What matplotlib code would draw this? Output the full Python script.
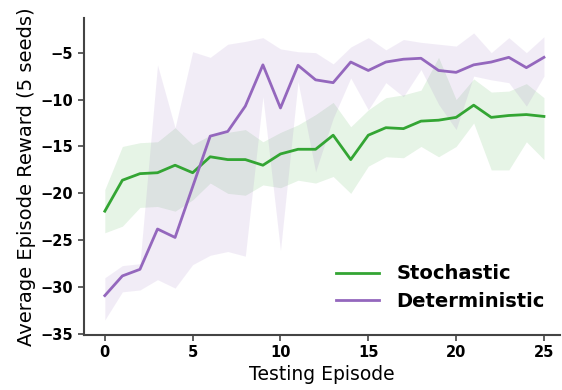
import numpy as np
import matplotlib.pyplot as plt

episodes = np.arange(26)

stoch_mean = [-21.9, -18.6, -17.9, -17.8, -17.0, -17.8, -16.1, -16.4, -16.4, -17.0,
              -15.8, -15.3, -15.3, -13.8, -16.4, -13.8, -13.0, -13.1, -12.3, -12.2,
              -11.9, -10.6, -11.9, -11.7, -11.6, -11.8]
stoch_upper = [-19.6, -15.0, -14.6, -14.5, -13.0, -14.8, -13.8, -13.5, -13.2, -14.5,
               -13.5, -12.7, -11.6, -10.3, -12.9, -11.1, -9.8, -9.5, -9.0, -5.5,
               -10.0, -7.8, -9.2, -9.1, -8.3, -9.8]
stoch_lower = [-24.2, -23.5, -21.5, -21.4, -21.9, -20.7, -18.9, -20.0, -20.2, -19.1,
               -19.4, -18.6, -18.9, -18.2, -20.0, -17.1, -16.1, -16.2, -15.0, -16.1,
               -15.0, -12.5, -17.5, -17.5, -14.5, -16.4]

det_mean = [-30.9, -28.8, -28.1, -23.8, -24.7, -19.3, -13.9, -13.4, -10.7, -6.3,
            -10.9, -6.35, -7.9, -8.2, -6.0, -6.9, -6.0, -5.7, -5.6, -6.9,
            -7.1, -6.3, -6.0, -5.5, -6.6, -5.5]
det_upper = [-29.0, -27.7, -27.5, -6.3, -13.0, -4.9, -5.5, -4.1, -3.8, -3.4,
             -4.6, -4.9, -5.0, -6.2, -4.4, -3.4, -4.7, -3.6, -3.9, -4.1,
             -4.3, -2.9, -5.0, -3.4, -5.0, -3.3]
det_lower = [-33.5, -30.5, -30.3, -29.2, -30.1, -27.6, -26.6, -26.2, -26.7, -9.7,
             -26.1, -8.1, -17.7, -12.0, -7.7, -11.1, -8.2, -9.7, -6.8, -10.5,
             -13.2, -7.5, -7.9, -8.2, -10.7, -7.5]

green = '#33a533'
purple = '#9467bd'

fig = plt.figure(figsize=(5.62, 3.9), dpi=100)
ax = fig.add_axes([0.149, 0.141, 0.847, 0.813])

ax.fill_between(episodes, stoch_lower, stoch_upper, color=green, alpha=0.12, linewidth=0)
ax.fill_between(episodes, det_lower, det_upper, color=purple, alpha=0.12, linewidth=0)
ax.plot(episodes, stoch_mean, color=green, lw=2, label='Stochastic')
ax.plot(episodes, det_mean, color=purple, lw=2, label='Deterministic')

ax.set_xlim(-1.2, 25.9)
ax.set_ylim(-35.1, -1.3)
ax.set_xticks([0, 5, 10, 15, 20, 25])
ax.set_yticks([-35, -30, -25, -20, -15, -10, -5])

for s in ['top', 'right']:
    ax.spines[s].set_visible(False)
for s in ['left', 'bottom']:
    ax.spines[s].set_color('#444444')
    ax.spines[s].set_linewidth(1.5)
ax.tick_params(colors='#444444', width=1.2, length=4, labelcolor='black')
for lab in ax.get_xticklabels() + ax.get_yticklabels():
    lab.set_fontweight('bold')
    lab.set_fontsize(10.5)

ax.set_xlabel('Testing Episode', fontsize=13.5, labelpad=3)
ax.set_ylabel('Average Episode Reward (5 seeds)', fontsize=14, labelpad=3)

ax.legend(loc='lower right', frameon=False, prop={'weight': 'bold', 'size': 14},
          handlelength=2.2, handletextpad=0.9, labelspacing=0.45,
          bbox_to_anchor=(1.005, 0.02))

fig.savefig('out.png', dpi=100)
